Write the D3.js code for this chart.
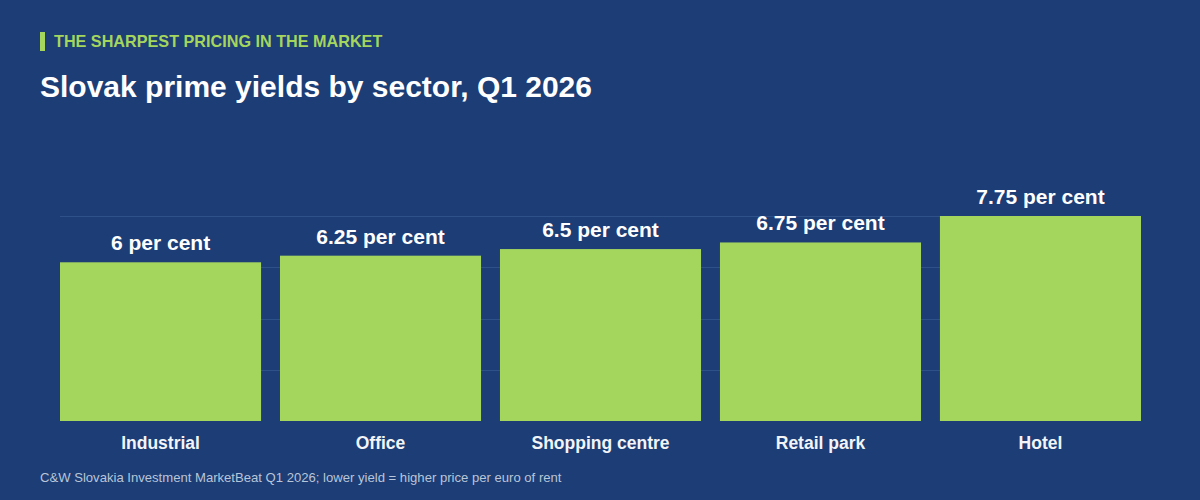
<!DOCTYPE html>
<html>
<head>
<meta charset="utf-8">
<style>
/* page + chart styling */
body { margin: 0; background: #1c3d75; }
svg { display: block; font-family: "Liberation Sans", Arial, Helvetica, sans-serif; }
.grid line { stroke: #2e5189; stroke-width: 1; }
.bar { fill: #a4d65e; }
.val { fill: #ffffff; font-size: 21px; font-weight: bold; text-anchor: middle; }
.cat { fill: #f2f4f8; font-size: 17.5px; font-weight: bold; text-anchor: middle; }
</style>
<script src="https://cdn.jsdelivr.net/npm/d3@7"></script>
</head>
<body>
<svg id="thevis" width="1200" height="500"></svg>
<script>
// data
var sectors = ["Industrial", "Office", "Shopping centre", "Retail park", "Hotel"];
var yields = [6, 6.25, 6.5, 6.75, 7.75];
var gridFractions = [0.25, 0.5, 0.75, 1];

var svg = d3.select("svg");
var plotLeft = 60, plotRight = 1141, plotTop = 216, plotBottom = 421;

var x = d3.scaleBand()
    .domain(sectors)
    .range([plotLeft, plotRight])
    .paddingInner(0.086)
    .paddingOuter(0);

var yMax = d3.max(yields);
var y = d3.scaleLinear()
    .domain([0, yMax])
    .range([plotBottom, plotTop]);

svg.append("rect")
    .attr("width", 1200)
    .attr("height", 500)
    .attr("fill", "#1c3d75");

// kicker + title
svg.append("rect")
    .attr("x", 40).attr("y", 32)
    .attr("width", 5).attr("height", 19)
    .attr("fill", "#a4d65e");

svg.append("text")
    .attr("x", 54).attr("y", 47)
    .attr("fill", "#a4d65e")
    .style("font-size", "16.2px")
    .style("font-weight", "bold")
    .text("THE SHARPEST PRICING IN THE MARKET");

svg.append("text")
    .attr("x", 40).attr("y", 97)
    .attr("fill", "#ffffff")
    .style("font-size", "30px")
    .style("font-weight", "bold")
    .text("Slovak prime yields by sector, Q1 2026");

// gridlines
svg.append("g")
    .attr("class", "grid")
  .selectAll("line")
  .data(gridFractions)
  .enter().append("line")
    .attr("x1", plotLeft)
    .attr("x2", plotRight)
    .attr("y1", function(d) { return Math.round(y(d * yMax)) + 0.5; })
    .attr("y2", function(d) { return Math.round(y(d * yMax)) + 0.5; });

var rows = sectors.map(function(s, i) { return {sector: s, value: yields[i]}; });

svg.append("g")
  .selectAll("rect")
  .data(rows)
  .enter().append("rect")
    .attr("class", "bar")
    .attr("x", function(d) { return x(d.sector); })
    .attr("width", x.bandwidth())
    .attr("y", function(d) { return y(d.value); })
    .attr("height", function(d) { return plotBottom - y(d.value); });

svg.append("g")
  .selectAll("text")
  .data(rows)
  .enter().append("text")
    .attr("class", "val")
    .attr("x", function(d) { return x(d.sector) + x.bandwidth() / 2; })
    .attr("y", function(d) { return y(d.value) - 12; })
    .text(function(d) { return d.value + " per cent"; });

// category axis (no line, no ticks)
var xAxis = svg.append("g")
    .attr("transform", "translate(0," + plotBottom + ")")
    .call(d3.axisBottom(x).tickSize(0).tickPadding(0));
xAxis.select(".domain").remove();
xAxis.selectAll("text")
    .attr("class", "cat")
    .attr("dy", null)
    .attr("y", 28)
    .attr("fill", null);

svg.append("text")
    .attr("x", 40).attr("y", 482)
    .attr("fill", "#b9c5d8")
    .style("font-size", "13.1px")
    .text("C&W Slovakia Investment MarketBeat Q1 2026; lower yield = higher price per euro of rent");
</script>
</body>
</html>
